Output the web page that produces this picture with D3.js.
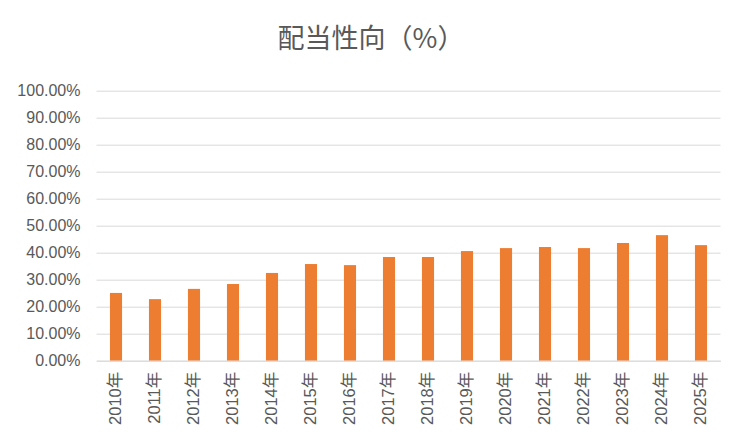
<!DOCTYPE html>
<html><head><meta charset="utf-8">
<script src="https://cdn.jsdelivr.net/npm/d3@7"></script>
<style>body{margin:0;background:#fff}svg{display:block}</style>
</head><body>
<script>
const categories = ["2010年","2011年","2012年","2013年","2014年","2015年","2016年","2017年","2018年","2019年","2020年","2021年","2022年","2023年","2024年","2025年"];
const payoutRatio = [25.1,22.8,26.6,28.4,32.5,35.8,35.4,38.4,38.4,40.6,41.7,42.1,41.7,43.6,46.5,42.8];
const yTicks = [0,10,20,30,40,50,60,70,80,90,100];
const title = "配当性向（%）";

const W = 744, H = 443;
const m = {left: 96.5, right: 23.5, top: 90.7, bottom: 82.3};
const svg = d3.select("body").append("svg").attr("width", W).attr("height", H);

const x = d3.scaleBand().domain(categories).range([m.left, W - m.right]).paddingInner(0.69).paddingOuter(0.345);
const y = d3.scaleLinear().domain([0, 100]).range([H - m.bottom, m.top]);

svg.append("text").attr("x", 371).attr("y", 48).attr("text-anchor", "middle")
  .attr("font-family", "'Noto Sans CJK JP', sans-serif").attr("font-size", 27)
  .attr("fill", "#595959").text(title);

const yAxis = d3.axisLeft(y).tickValues(yTicks).tickSize(-(W - m.left - m.right)).tickPadding(16)
  .tickFormat(d => d.toFixed(2) + "%");
const gy = svg.append("g").attr("transform", `translate(${m.left},0)`).call(yAxis);
gy.select(".domain").remove();
gy.selectAll(".tick line").attr("stroke", "#d9d9d9").attr("stroke-width", 1);
gy.selectAll(".tick text").attr("fill", "#595959").attr("font-size", 16)
  .attr("font-family", "'Liberation Sans', Arial, sans-serif");

svg.append("g").selectAll("rect").data(payoutRatio).join("rect")
  .attr("x", (d, i) => x(categories[i]))
  .attr("width", x.bandwidth())
  .attr("y", d => y(d))
  .attr("height", d => y(0) - y(d))
  .attr("fill", "#ED7D31");

const xAxis = d3.axisBottom(x).tickSize(0).tickPadding(0);
const gx = svg.append("g").attr("transform", `translate(0,${H - m.bottom})`).call(xAxis);
gx.select(".domain").attr("stroke", "#d9d9d9");
gx.selectAll(".tick text")
  .attr("fill", "#595959").attr("font-size", 16.5)
  .attr("font-family", "'Liberation Sans', 'Noto Sans CJK JP', sans-serif")
  .attr("text-anchor", "end")
  .attr("transform", "translate(5,11) rotate(-90)")
  .attr("dy", "0").attr("x", 0).attr("y", 0);
</script>
</body></html>
